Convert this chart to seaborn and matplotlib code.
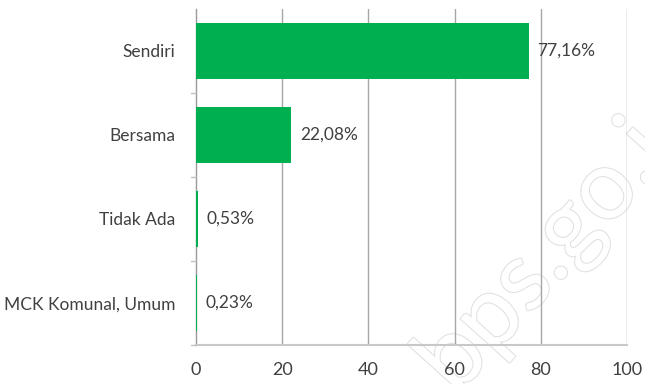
import matplotlib
matplotlib.use("Agg")
import matplotlib.pyplot as plt
import matplotlib.patheffects as pe
import seaborn as sns
import pandas as pd

categories = ["Sendiri", "Bersama", "Tidak Ada", "MCK Komunal, Umum"]
values = [77.16, 22.08, 0.53, 0.23]
value_labels = ["77,16%", "22,08%", "0,53%", "0,23%"]
x_ticks = [0, 20, 40, 60, 80, 100]

df = pd.DataFrame({"kategori": categories, "persen": values})

sns.set_theme(style="white")
plt.rcParams["font.family"] = ["Lato", "DejaVu Sans"]

fig = plt.figure(figsize=(6.45, 3.84), dpi=100)

# site watermark, drawn behind the transparent axes
wm = fig.text(0.874, 0.38, "bps.go.id", fontsize=70, rotation=48,
              ha="center", va="center", color="white", zorder=-1)
wm.set_path_effects([pe.withStroke(linewidth=1.5, foreground="#e0e0e0")])

ax = fig.add_axes([0.304, 0.1016, 0.668, 0.875])
ax.patch.set_alpha(0)

sns.barplot(data=df, x="persen", y="kategori", orient="h", color="#00B050",
            saturation=1, width=0.67, linewidth=0, ax=ax, zorder=3)

ax.set_xlim(0, 100)
ax.set_ylim(3.5, -0.5)
ax.set_xticks(x_ticks)
ax.set_xticklabels([str(t) for t in x_ticks], fontsize=13, color="#404040")
ax.set_xlabel("")
ax.set_ylabel("")
ax.tick_params(axis="y", length=0, labelsize=12.5, labelcolor="#404040", pad=15)
ax.tick_params(axis="x", length=7, width=1, color="#bfbfbf", pad=5,
               direction="out")

# vertical gridlines
for t in x_ticks[1:]:
    ax.axvline(t, color="#a6a6a6", lw=1, zorder=1)

for side in ["top", "right"]:
    ax.spines[side].set_visible(False)
ax.spines["bottom"].set_color("#c8c8c8")
ax.spines["bottom"].set_linewidth(1.5)
ax.spines["left"].set_color("#9a9a9a")
ax.spines["left"].set_linewidth(1)
ax.spines["left"].set_zorder(1)

# small separator ticks on the category axis
for b in [0.5, 1.5, 2.5, 3.5]:
    ax.plot([-1.2, 0], [b, b], color="#bfbfbf", lw=1, clip_on=False)

for i, (v, lab) in enumerate(zip(values, value_labels)):
    ax.text(v + 2.0, i, lab, va="center", ha="left", fontsize=12.5,
            color="#404040")

fig.savefig("out.png", dpi=100)
